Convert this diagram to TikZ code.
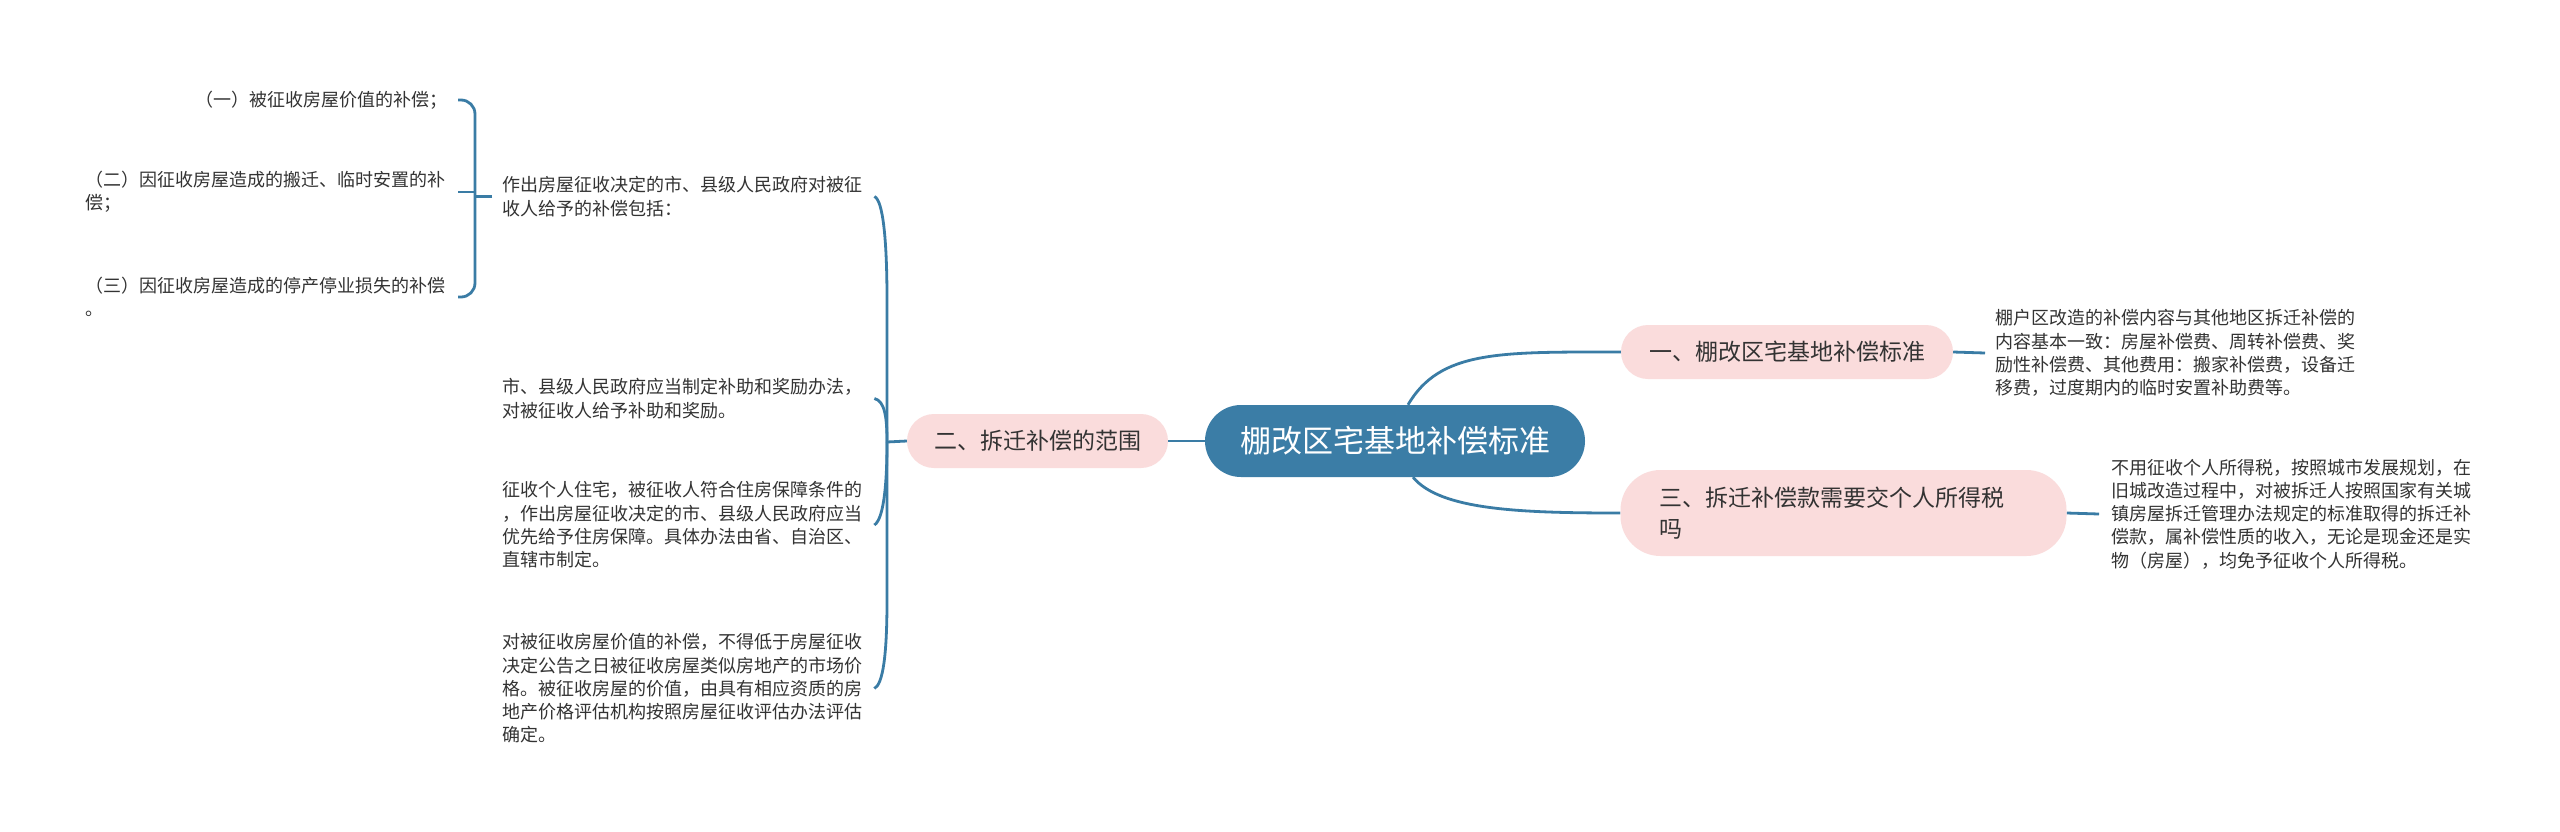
\documentclass[tikz,border=0pt]{standalone}
\usepackage{fontspec}
\setmainfont{Noto Sans CJK SC}
\definecolor{lineblue}{HTML}{3A7CA5}
\definecolor{cnodefill}{HTML}{3B7DA6}
\definecolor{pnodefill}{HTML}{FADCDC}
\definecolor{txt}{HTML}{333333}
\pgfdeclarelayer{bg}
\pgfsetlayers{bg,main}
\tikzset{
  conn/.style={draw=lineblue, line width=2.8pt},
  central/.style={rectangle, rounded corners=36pt, fill=cnodefill, text=white, minimum width=380pt, minimum height=72pt, inner sep=0pt, font=\fontsize{31}{36}\selectfont},
  topic/.style={rectangle, rounded corners=27pt, fill=pnodefill, text=txt, minimum height=54pt, inner sep=0pt, font=\fontsize{23}{31}\selectfont},
  leaf/.style={text=txt, inner xsep=10pt, inner ysep=0pt, text width=362pt, align=left, font=\fontsize{18}{23.3}\selectfont},
}
\begin{document}
\begin{tikzpicture}[x=1pt,y=-1pt]
\useasboundingbox (0,0) rectangle (2560,831);
\begin{pgfonlayer}{bg}
\fill[white] (0,0) rectangle (2560,831);
\end{pgfonlayer}
% main nodes
\node[central] (c) at (1395,441) {棚改区宅基地补偿标准};
\node[topic, minimum width=261pt] (n2) at (1037.5,441) {二、拆迁补偿的范围};
\node[topic, minimum width=332pt] (n1) at (1787,352) {一、棚改区宅基地补偿标准};
\node[topic, minimum height=86pt, rounded corners=40pt, text width=368pt, align=left, inner xsep=39pt] (n3) at (1843.5,513) {三、拆迁补偿款需要交个人所得税\\吗};
% leaves
\node[leaf, anchor=west] (l1) at (492,196.5) {作出房屋征收决定的市、县级人民政府对被征\\收人给予的补偿包括：};
\node[leaf, anchor=west] (l2) at (492,398.5) {市、县级人民政府应当制定补助和奖励办法，\\对被征收人给予补助和奖励。};
\node[leaf, anchor=west] (l3) at (492,525) {征收个人住宅，被征收人符合住房保障条件的\\，作出房屋征收决定的市、县级人民政府应当\\优先给予住房保障。具体办法由省、自治区、\\直辖市制定。};
\node[leaf, anchor=west] (l4) at (492,688.5) {对被征收房屋价值的补偿，不得低于房屋征收\\决定公告之日被征收房屋类似房地产的市场价\\格。被征收房屋的价值，由具有相应资质的房\\地产价格评估机构按照房屋征收评估办法评估\\确定。};
\node[leaf, anchor=east, align=right] (s1) at (458,100) {（一）被征收房屋价值的补偿；};
\node[leaf, anchor=east] (s2) at (458,192) {（二）因征收房屋造成的搬迁、临时安置的补\\偿；};
\node[leaf, anchor=east] (s3) at (458,297) {（三）因征收房屋造成的停产停业损失的补偿\\。};
\node[leaf, anchor=west] (r1) at (1985,353) {棚户区改造的补偿内容与其他地区拆迁补偿的\\内容基本一致：房屋补偿费、周转补偿费、奖\\励性补偿费、其他费用：搬家补偿费，设备迁\\移费，过度期内的临时安置补助费等。};
\node[leaf, anchor=west, inner xsep=12pt] (r3) at (2099,514) {不用征收个人所得税，按照城市发展规划，在\\旧城改造过程中，对被拆迁人按照国家有关城\\镇房屋拆迁管理办法规定的标准取得的拆迁补\\偿款，属补偿性质的收入，无论是现金还是实\\物（房屋），均免予征收个人所得税。};
\coordinate (J) at (887,442);
\coordinate (bk) at (475,196.5);
\begin{pgfonlayer}{bg}
\draw[conn] (c.west) -- (n2.east);
\draw[conn] (n2.west) -- (J);
\draw[conn] (J) -- (887,300) .. controls (887,240) and (883,200) .. (l1.east);
\draw[conn] (J) -- (887,600) .. controls (887,655) and (883,684) .. (l4.east);
\draw[conn] (J) .. controls (887,418) and (885,401) .. (l2.east);
\draw[conn] (J) .. controls (887,475) and (885,518) .. (l3.east);
\draw[conn] (l1.west) -- (bk);
\draw[conn, rounded corners=14pt] (s1.east) -| (bk) |- (s3.east);
\draw[conn] (s2.east) -- (s2.east -| bk);
\draw[conn] ([xshift=13pt]c.north) .. controls (1440,350) and (1500,352) .. (n1.west);
\draw[conn] ([xshift=18pt]c.south) .. controls (1440,510) and (1520,513) .. (n3.west);
\draw[conn] (n1.east) -- (r1.west);
\draw[conn] (n3.east) -- (r3.west);
\end{pgfonlayer}
\end{tikzpicture}
\end{document}
